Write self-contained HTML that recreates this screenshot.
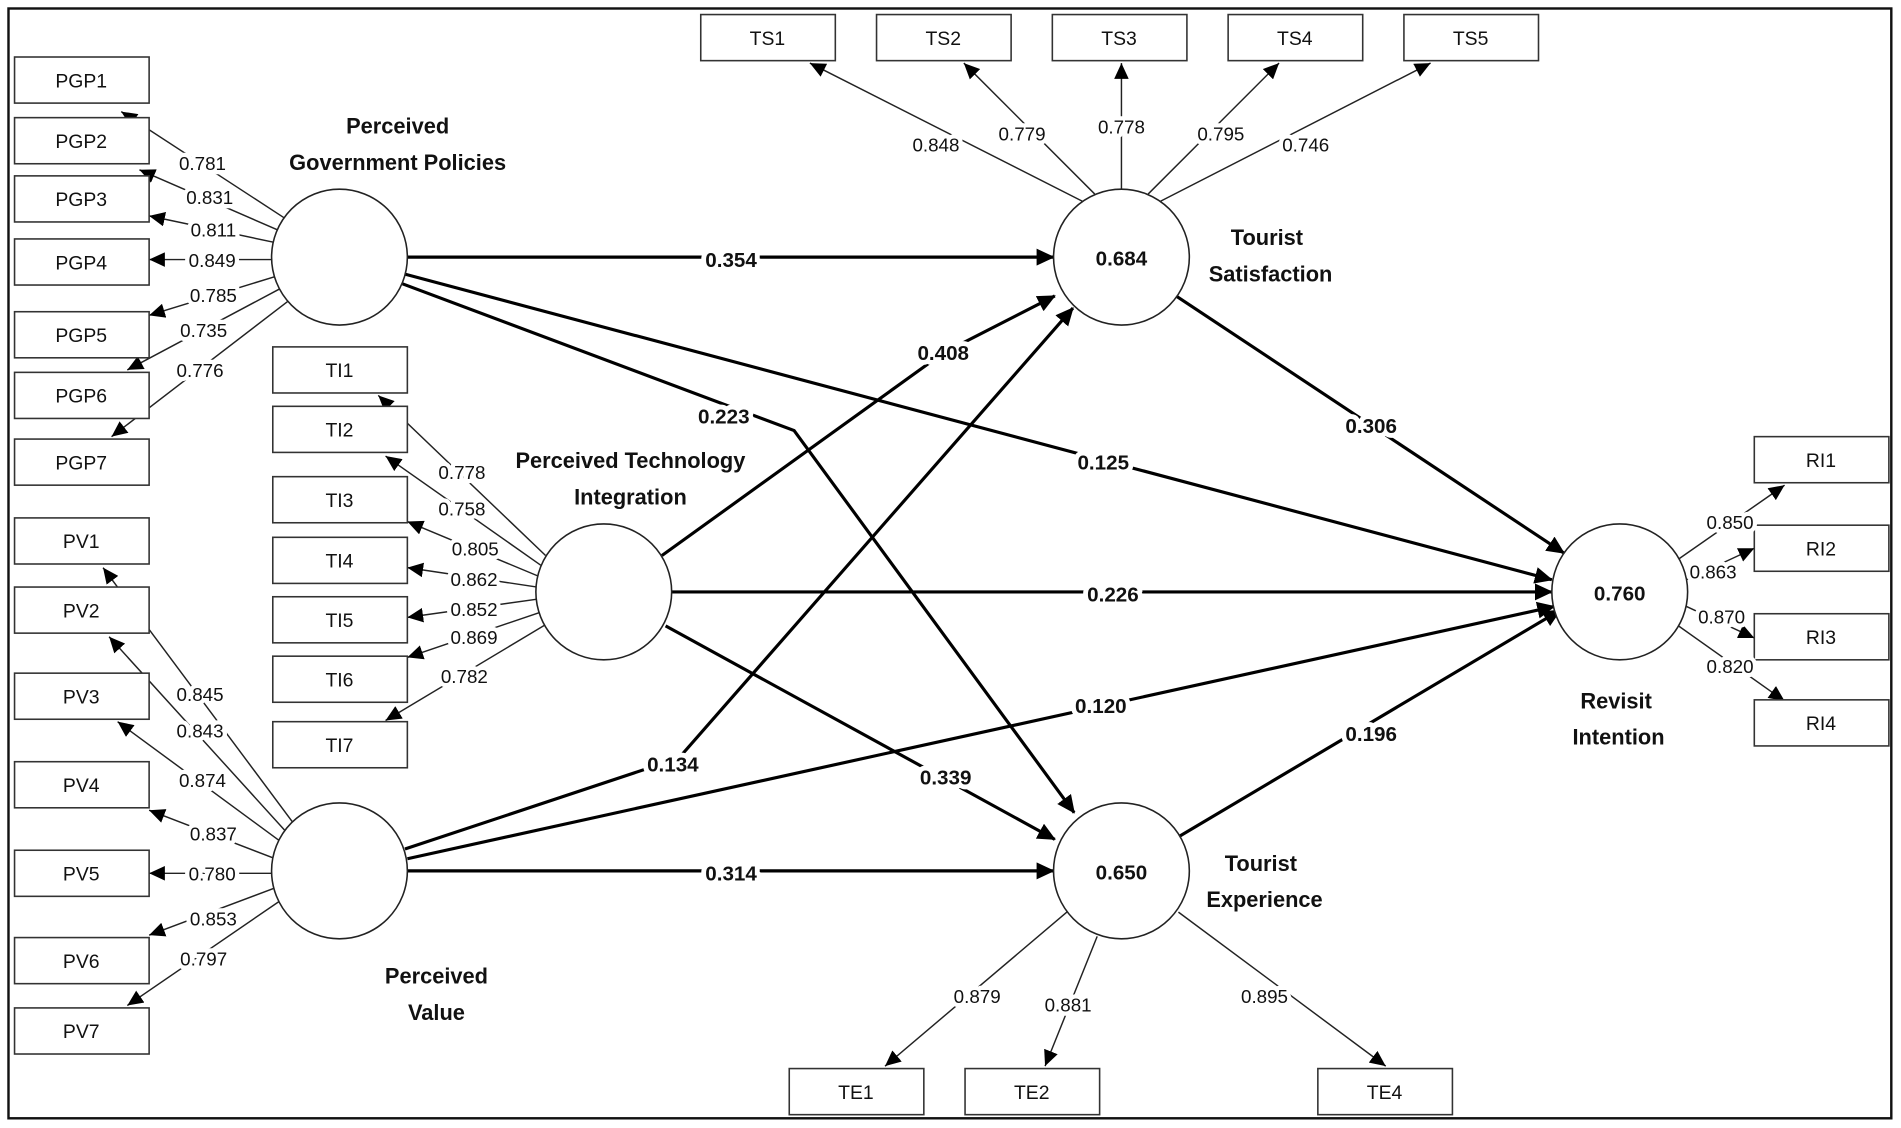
<!DOCTYPE html>
<html><head><meta charset="utf-8"><style>
html,body{margin:0;padding:0;background:#fff;}
svg{display:block;}
text{font-family:"Liberation Sans",sans-serif;fill:#111;}
.l{font-size:15.5px;}
.b{font-size:17px;font-weight:bold;}
.n{font-size:18px;font-weight:bold;}
.bx{font-size:16px;}
</style></head><body>
<svg width="1901" height="1128" viewBox="0 0 1568 930" preserveAspectRatio="none" xmlns="http://www.w3.org/2000/svg">
<defs>
<marker id="a" markerUnits="userSpaceOnUse" markerWidth="16" markerHeight="14" refX="14" refY="7" orient="auto"><path d="M0,0 L15,7 L0,14 z" fill="#000"/></marker>
<marker id="s" markerUnits="userSpaceOnUse" markerWidth="14" markerHeight="12" refX="13" refY="6" orient="auto"><path d="M0,0 L13,6 L0,12 z" fill="#000"/></marker>
</defs>
<rect x="0" y="0" width="1568" height="930" fill="#fff"/>
<rect x="7" y="7" width="1553" height="915" fill="none" stroke="#111" stroke-width="2"/>

<!-- loading lines -->
<g stroke="#222" stroke-width="1.2" fill="none" marker-end="url(#s)">
<line x1="235" y1="180" x2="100" y2="92"/>
<line x1="230" y1="190" x2="115" y2="140"/>
<line x1="227" y1="200" x2="123" y2="178"/>
<line x1="224" y1="214" x2="123" y2="214"/>
<line x1="227" y1="228" x2="123" y2="260"/>
<line x1="231" y1="238" x2="105" y2="305"/>
<line x1="238" y1="248" x2="92" y2="360"/>

<line x1="450" y1="458" x2="312" y2="326"/>
<line x1="446" y1="466" x2="318" y2="376"/>
<line x1="444" y1="475" x2="336" y2="430"/>
<line x1="443" y1="484" x2="336" y2="468"/>
<line x1="443" y1="494" x2="336" y2="509"/>
<line x1="445" y1="505" x2="336" y2="542"/>
<line x1="450" y1="515" x2="318" y2="594"/>

<line x1="243" y1="680" x2="85" y2="468"/>
<line x1="238" y1="688" x2="90" y2="525"/>
<line x1="233" y1="695" x2="97" y2="595"/>
<line x1="227" y1="708" x2="123" y2="668"/>
<line x1="224" y1="720" x2="123" y2="720"/>
<line x1="227" y1="732" x2="123" y2="771"/>
<line x1="232" y1="742" x2="105" y2="829"/>

<line x1="893" y1="166" x2="668" y2="52"/>
<line x1="903" y1="160" x2="795" y2="52"/>
<line x1="925" y1="156" x2="925" y2="52"/>
<line x1="947" y1="160" x2="1055" y2="52"/>
<line x1="957" y1="166" x2="1180" y2="52"/>

<line x1="880" y1="752" x2="730" y2="879"/>
<line x1="905" y1="772" x2="862" y2="879"/>
<line x1="972" y1="752" x2="1143" y2="879"/>

<line x1="1383" y1="462" x2="1472" y2="400"/>
<line x1="1391" y1="478" x2="1447" y2="452"/>
<line x1="1391" y1="500" x2="1447" y2="526"/>
<line x1="1383" y1="515" x2="1472" y2="578"/>
</g>

<!-- structural paths -->
<g stroke="#000" stroke-width="2.6" fill="none" marker-end="url(#a)">
<line x1="336" y1="212" x2="869" y2="212"/>
<line x1="334" y1="226" x2="1280" y2="478"/>
<polyline points="332,234 655,355 886,670"/>
<polyline points="546,458 778,291 870,244"/>
<line x1="554" y1="488" x2="1280" y2="488"/>
<line x1="549" y1="516" x2="870" y2="692"/>
<polyline points="334,700 560,625 885,254"/>
<line x1="336" y1="708" x2="1282" y2="500"/>
<line x1="336" y1="718" x2="869" y2="718"/>
<line x1="970" y1="244" x2="1290" y2="456"/>
<line x1="972" y1="690" x2="1287" y2="503"/>
</g>

<!-- circles -->
<g fill="#fff" stroke="#222" stroke-width="1.3">
<circle cx="280" cy="212" r="56"/>
<circle cx="498" cy="488" r="56"/>
<circle cx="280" cy="718" r="56"/>
<circle cx="925" cy="212" r="56"/>
<circle cx="925" cy="718" r="56"/>
<circle cx="1336" cy="488" r="56"/>
</g>
<g text-anchor="middle">
<text class="b" x="925" y="219">0.684</text>
<text class="b" x="925" y="725">0.650</text>
<text class="b" x="1336" y="495">0.760</text>
</g>

<!-- boxes -->
<g fill="#fff" stroke="#333" stroke-width="1.3">
<rect x="12" y="47" width="111" height="38"/><rect x="12" y="97" width="111" height="38"/><rect x="12" y="145" width="111" height="38"/><rect x="12" y="197" width="111" height="38"/><rect x="12" y="257" width="111" height="38"/><rect x="12" y="307" width="111" height="38"/><rect x="12" y="362" width="111" height="38"/>
<rect x="12" y="427" width="111" height="38"/><rect x="12" y="484" width="111" height="38"/><rect x="12" y="555" width="111" height="38"/><rect x="12" y="628" width="111" height="38"/><rect x="12" y="701" width="111" height="38"/><rect x="12" y="773" width="111" height="38"/><rect x="12" y="831" width="111" height="38"/>
<rect x="225" y="286" width="111" height="38"/><rect x="225" y="335" width="111" height="38"/><rect x="225" y="393" width="111" height="38"/><rect x="225" y="443" width="111" height="38"/><rect x="225" y="492" width="111" height="38"/><rect x="225" y="541" width="111" height="38"/><rect x="225" y="595" width="111" height="38"/>
<rect x="578" y="12" width="111" height="38"/><rect x="723" y="12" width="111" height="38"/><rect x="868" y="12" width="111" height="38"/><rect x="1013" y="12" width="111" height="38"/><rect x="1158" y="12" width="111" height="38"/>
<rect x="1447" y="360" width="111" height="38"/><rect x="1447" y="433" width="111" height="38"/><rect x="1447" y="506" width="111" height="38"/><rect x="1447" y="577" width="111" height="38"/>
<rect x="651" y="881" width="111" height="38"/><rect x="796" y="881" width="111" height="38"/><rect x="1087" y="881" width="111" height="38"/>
</g>
<g class="bx" text-anchor="middle">
<text x="67" y="72">PGP1</text><text x="67" y="122">PGP2</text><text x="67" y="170">PGP3</text><text x="67" y="222">PGP4</text><text x="67" y="282">PGP5</text><text x="67" y="332">PGP6</text><text x="67" y="387">PGP7</text>
<text x="67" y="452">PV1</text><text x="67" y="509">PV2</text><text x="67" y="580">PV3</text><text x="67" y="653">PV4</text><text x="67" y="726">PV5</text><text x="67" y="798">PV6</text><text x="67" y="856">PV7</text>
<text x="280" y="311">TI1</text><text x="280" y="360">TI2</text><text x="280" y="418">TI3</text><text x="280" y="468">TI4</text><text x="280" y="517">TI5</text><text x="280" y="566">TI6</text><text x="280" y="620">TI7</text>
<text x="633" y="37">TS1</text><text x="778" y="37">TS2</text><text x="923" y="37">TS3</text><text x="1068" y="37">TS4</text><text x="1213" y="37">TS5</text>
<text x="1502" y="385">RI1</text><text x="1502" y="458">RI2</text><text x="1502" y="531">RI3</text><text x="1502" y="602">RI4</text>
<text x="706" y="906">TE1</text><text x="851" y="906">TE2</text><text x="1142" y="906">TE4</text>
</g>

<!-- loading labels -->
<g class="l" text-anchor="middle" stroke="#fff" stroke-width="7" stroke-linejoin="round" paint-order="stroke">
<text x="167" y="140">0.781</text><text x="173" y="168">0.831</text><text x="176" y="195">0.811</text><text x="175" y="220">0.849</text><text x="176" y="249">0.785</text><text x="168" y="278">0.735</text><text x="165" y="311">0.776</text>
<text x="381" y="395">0.778</text><text x="381" y="425">0.758</text><text x="392" y="458">0.805</text><text x="391" y="483">0.862</text><text x="391" y="508">0.852</text><text x="391" y="531">0.869</text><text x="383" y="563">0.782</text>
<text x="165" y="578">0.845</text><text x="165" y="608">0.843</text><text x="167" y="649">0.874</text><text x="176" y="693">0.837</text><text x="175" y="726">0.780</text><text x="176" y="763">0.853</text><text x="168" y="796">0.797</text>
<text x="772" y="125">0.848</text><text x="843" y="116">0.779</text><text x="925" y="110">0.778</text><text x="1007" y="116">0.795</text><text x="1077" y="125">0.746</text>
<text x="806" y="827">0.879</text><text x="881" y="834">0.881</text><text x="1043" y="827">0.895</text>
<text x="1427" y="436">0.850</text><text x="1413" y="477">0.863</text><text x="1420" y="514">0.870</text><text x="1427" y="555">0.820</text>
</g>

<!-- path coefficients -->
<g class="b" text-anchor="middle" stroke="#fff" stroke-width="8" stroke-linejoin="round" paint-order="stroke">
<text x="603" y="220">0.354</text><text x="910" y="387">0.125</text><text x="597" y="349">0.223</text>
<text x="778" y="297">0.408</text><text x="918" y="496">0.226</text><text x="780" y="647">0.339</text>
<text x="555" y="636">0.134</text><text x="908" y="588">0.120</text><text x="603" y="726">0.314</text>
<text x="1131" y="357">0.306</text><text x="1131" y="611">0.196</text>
</g>

<!-- construct names -->
<g class="n" text-anchor="middle">
<text x="328" y="110">Perceived</text><text x="328" y="140">Government Policies</text>
<text x="520" y="386">Perceived Technology</text><text x="520" y="416">Integration</text>
<text x="1045" y="202">Tourist</text><text x="1048" y="232">Satisfaction</text>
<text x="1333" y="584">Revisit</text><text x="1335" y="614">Intention</text>
<text x="1040" y="718">Tourist</text><text x="1043" y="748">Experience</text>
<text x="360" y="811">Perceived</text><text x="360" y="841">Value</text>
</g>
</svg>
</body></html>
